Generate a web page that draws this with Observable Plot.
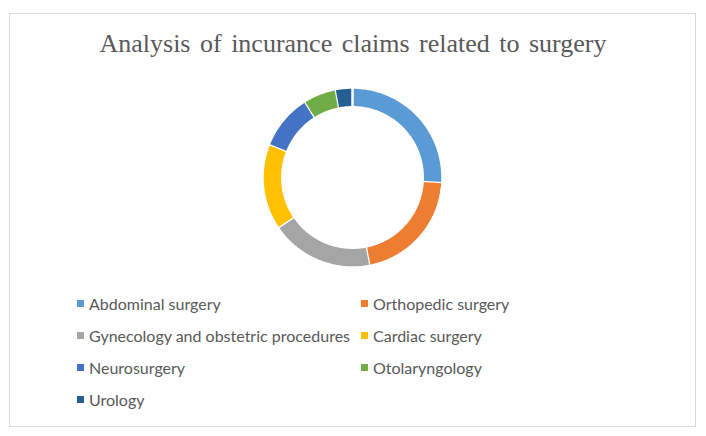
<!DOCTYPE html>
<html><head><meta charset="utf-8">
<script src="https://cdn.jsdelivr.net/npm/d3@7"></script>
<script src="https://cdn.jsdelivr.net/npm/@observablehq/plot@0.6"></script>
<style>
body{margin:0;background:#fff;}
#frame{position:relative;width:706px;height:436px;overflow:hidden;background:#fff;}
#border{position:absolute;left:9px;top:13px;width:687px;height:414px;border:1px solid #d9d9d9;box-sizing:border-box;}
#title{position:absolute;left:0;top:29px;width:706px;text-align:center;font-family:"Liberation Serif","DejaVu Serif",serif;font-size:26px;color:#595959;word-spacing:3px;line-height:30px;}
#chart{position:absolute;left:252px;top:77px;}
#legend{position:absolute;left:77px;top:294px;font-family:Lato,"Open Sans",sans-serif;font-size:16px;color:#595959;}
.item{position:absolute;white-space:nowrap;display:flex;align-items:center;}
.sw{width:7px;height:7px;margin-right:5px;}
</style></head>
<body>
<div id="frame">
<div id="border"></div>
<div id="title"></div>
<div id="chart"></div>
<div id="legend"></div>
</div>
<script>
const title = "Analysis of incurance claims related to surgery";
const categories = ["Abdominal surgery","Orthopedic surgery","Gynecology and obstetric procedures","Cardiac surgery","Neurosurgery","Otolaryngology","Urology"];
const values = [26, 21, 18.6, 15.5, 10, 5.9, 3];
const colors = ["#5B9BD5","#ED7D31","#A5A5A5","#FFC000","#4472C4","#70AD47","#255E91"];

document.getElementById("title").textContent = title;

const data = categories.map((c,i)=>({name:c, value:values[i]}));
const arcs = d3.pie().sort(null).value(d=>d.value)(data);
const rOuter = 1, rInner = 0.78;
const pts = [];
for (const a of arcs) {
  const n = Math.max(4, Math.ceil((a.endAngle - a.startAngle) / 0.02));
  for (let k=0;k<=n;k++){ const t = a.startAngle + (a.endAngle-a.startAngle)*k/n; pts.push({name:a.data.name, x:rOuter*Math.sin(t), y:rOuter*Math.cos(t)}); }
  for (let k=n;k>=0;k--){ const t = a.startAngle + (a.endAngle-a.startAngle)*k/n; pts.push({name:a.data.name, x:rInner*Math.sin(t), y:rInner*Math.cos(t)}); }
}

const plot = Plot.plot({
  width: 200, height: 200, margin: 10,
  x: {domain:[-1,1], axis:null},
  y: {domain:[-1,1], axis:null},
  color: {domain: categories, range: colors},
  marks: [
    Plot.line(pts, {x:"x", y:"y", z:"name", fill:"name", stroke:"white", strokeWidth:2.5, strokeLinejoin:"miter"})
  ]
});
document.getElementById("chart").appendChild(plot);

const legend = document.getElementById("legend");
categories.forEach((c,i)=>{
  const col = i%2, row = Math.floor(i/2);
  const el = document.createElement("div");
  el.className = "item";
  el.style.left = (col ? 284 : 0) + "px";
  el.style.top = (row*32) + "px";
  el.innerHTML = `<span class="sw" style="background:${colors[i]}"></span><span></span>`;
  el.lastChild.textContent = c;
  legend.appendChild(el);
});
</script>
</body></html>
